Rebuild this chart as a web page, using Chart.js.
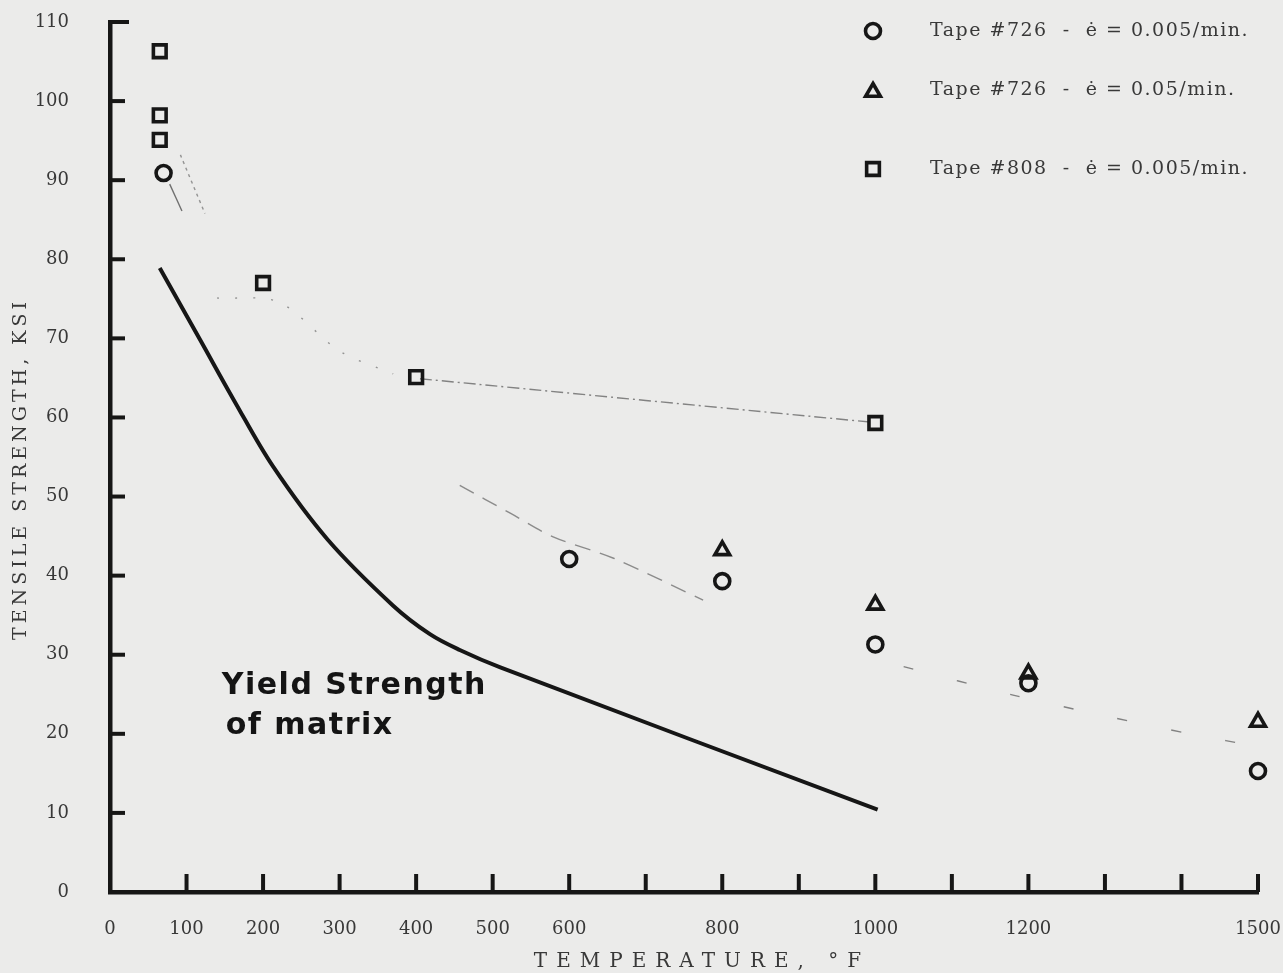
<!DOCTYPE html>
<html>
<head>
<meta charset="utf-8">
<script src="https://cdn.jsdelivr.net/npm/chart.js@4.4.1/dist/chart.umd.min.js"></script>
<style>
  html, body { margin: 0; padding: 0; background: #ebebea; overflow: hidden; }
  canvas { display: block; }
</style>
</head>
<body>
<canvas id="chart" width="1283" height="973"></canvas>
<script>
// ---------------- data ----------------
const xTickValues = [0,100,200,300,400,500,600,700,800,900,1000,1100,1200,1300,1400,1500];
const xLabelValues = [0,100,200,300,400,500,600,800,1000,1200,1500];
const yTickValues = [0,10,20,30,40,50,60,70,80,90,100,110];

// Tape #726, strain rate 0.005/min (circles)
const t726SlowTemp = [70, 600, 800, 1000, 1200, 1500];
const t726SlowKsi  = [90.9, 42.1, 39.3, 31.3, 26.4, 15.3];
// Tape #726, strain rate 0.05/min (triangles)
const t726FastTemp = [800, 1000, 1200, 1500];
const t726FastKsi  = [43.2, 36.3, 27.6, 21.5];
// Tape #808, strain rate 0.005/min (squares)
const t808SlowTemp = [65, 65, 65, 200, 400, 1000];
const t808SlowKsi  = [106.3, 98.2, 95.1, 77.0, 65.1, 59.3];

// Yield strength of matrix (heavy curve)
const yieldTemp = [65, 119, 163, 213, 284, 370, 418, 457, 510, 1003];
const yieldKsi  = [78.9, 69.6, 62.0, 53.8, 44.6, 36.2, 32.6, 30.6, 28.4, 10.4];

// faint hand-drawn fit lines
const fitSq808Temp = [405, 995];
const fitSq808Ksi  = [64.9, 59.4];
const fitSq200Temp = [140, 220, 300, 370];
const fitSq200Ksi  = [75.1, 74.6, 68.4, 65.5];
const fitMidTemp = [457, 523, 579, 658, 775];
const fitMidKsi  = [51.4, 47.9, 44.9, 42.2, 36.9];
const fitTopCTemp = [78, 94];
const fitTopCKsi  = [89.5, 86.1];
const fitTopSTemp = [92, 124];
const fitTopSKsi  = [93.2, 85.8];
const fitRightTemp = [1037, 1180, 1294, 1416, 1500];
const fitRightKsi  = [28.5, 24.9, 22.4, 19.9, 18.4];

const legendLabels = [
  'Tape #726  -  \u0117 = 0.005/min.',
  'Tape #726  -  \u0117 = 0.05/min.',
  'Tape #808  -  \u0117 = 0.005/min.'
];
const xTitle = 'TEMPERATURE, \u00B0F';
const yTitle = 'TENSILE STRENGTH, KSI';
const noteLines = ['Yield Strength', 'of matrix'];
const noteTemp = 146;
const noteKsi = [25.0, 20.0];

// ---------------- styling ----------------
const PAGE_BG = '#ebebea';
const INK = '#161616';
const TEXT = '#383838';
const SERIF = '"DejaVu Serif", "Liberation Serif", serif';

const pts = (xs, ys) => xs.map((x, i) => ({ x: x, y: ys[i] }));

function markerSet(label, xs, ys, style, r) {
  return {
    label: label, data: pts(xs, ys), showLine: false,
    pointStyle: style, pointRadius: r, pointHoverRadius: r,
    borderColor: INK, backgroundColor: 'rgba(0,0,0,0)',
    pointBorderWidth: 3.6, borderWidth: 3.6, clip: false, inLegend: true
  };
}
function fitSet(xs, ys, dash, alpha) {
  return {
    data: pts(xs, ys), showLine: true, pointRadius: 0,
    borderColor: 'rgba(60,60,60,' + alpha + ')', borderWidth: 1.4,
    borderDash: dash, tension: 0.3, clip: false
  };
}

const datasets = [
  markerSet(legendLabels[0], t726SlowTemp, t726SlowKsi, 'circle', 7.5),
  markerSet(legendLabels[1], t726FastTemp, t726FastKsi, 'triangle', 8.5),
  markerSet(legendLabels[2], t808SlowTemp, t808SlowKsi, 'rect', 9),
  {
    label: 'Yield Strength of matrix', data: pts(yieldTemp, yieldKsi),
    showLine: true, pointRadius: 0, borderColor: INK, borderWidth: 4,
    tension: 0.35, clip: false
  },
  fitSet(fitSq808Temp, fitSq808Ksi, [12, 4, 2, 4], 0.6),
  fitSet(fitSq200Temp, fitSq200Ksi, [2, 16], 0.5),
  fitSet(fitMidTemp, fitMidKsi, [16, 10], 0.55),
  fitSet(fitTopCTemp, fitTopCKsi, [], 0.7),
  fitSet(fitTopSTemp, fitTopSKsi, [3, 4], 0.5),
  fitSet(fitRightTemp, fitRightKsi, [10, 45], 0.6)
];

// ---------------- plugins ----------------
const background = {
  id: 'background',
  beforeDraw(chart) {
    const c = chart.ctx;
    c.save(); c.fillStyle = PAGE_BG; c.fillRect(0, 0, chart.width, chart.height); c.restore();
  }
};

const innerTicks = {
  id: 'innerTicks',
  beforeDatasetsDraw(chart) {
    const c = chart.ctx, a = chart.chartArea, xs = chart.scales.x, ys = chart.scales.y;
    c.save(); c.strokeStyle = INK; c.lineWidth = 4; c.lineCap = 'butt';
    xs.ticks.forEach(t => {
      if (t.value === xs.min) return;
      const px = xs.getPixelForValue(t.value);
      c.beginPath(); c.moveTo(px, a.bottom); c.lineTo(px, a.bottom - 18); c.stroke();
    });
    ys.ticks.forEach(t => {
      if (t.value === ys.min) return;
      const py = ys.getPixelForValue(t.value);
      const len = t.value === ys.max ? 19 : 15;
      c.beginPath(); c.moveTo(a.left, py); c.lineTo(a.left + len, py); c.stroke();
    });
    c.restore();
  }
};

function drawSymbol(c, style, x, y, r) {
  if (Chart.helpers && Chart.helpers.drawPoint) {
    Chart.helpers.drawPoint(c, { pointStyle: style, radius: r, borderWidth: 3.6, rotation: 0 }, x, y);
    return;
  }
  c.beginPath();
  if (style === 'circle') c.arc(x, y, r, 0, Math.PI * 2);
  else if (style === 'rect') { const s = r * Math.SQRT1_2; c.rect(x - s, y - s, 2 * s, 2 * s); }
  else { c.moveTo(x, y - r); c.lineTo(x + r * 0.866, y + r / 2); c.lineTo(x - r * 0.866, y + r / 2); c.closePath(); }
  c.stroke();
}

const sideLegend = {
  id: 'sideLegend',
  afterDraw(chart) {
    const c = chart.ctx;
    const rowY = [31, 90, 169];
    const symX = 873, textX = 930;
    c.save();
    let row = 0;
    chart.data.datasets.forEach(ds => {
      if (!ds.inLegend) return;
      const y = rowY[row++];
      c.strokeStyle = INK; c.fillStyle = 'rgba(0,0,0,0)'; c.lineWidth = 3.6;
      const yy = ds.pointStyle === 'triangle' ? y + 2 : y;
      drawSymbol(c, ds.pointStyle, symX, yy, ds.pointRadius);
      c.fillStyle = TEXT;
      c.font = '19px ' + SERIF;
      c.letterSpacing = '1.5px';
      c.textAlign = 'left'; c.textBaseline = 'middle';
      c.fillText(ds.label, textX, y);
    });
    c.restore();
  }
};

const axisTitles = {
  id: 'axisTitles',
  afterDraw(chart) {
    const c = chart.ctx, a = chart.chartArea;
    c.save();
    c.fillStyle = TEXT;
    c.font = '20px ' + SERIF;
    c.textAlign = 'center'; c.textBaseline = 'middle';
    c.letterSpacing = '9px';
    c.fillText(xTitle, (a.left + a.right) / 2 + 18, 962);
    c.font = '19px ' + SERIF;
    c.letterSpacing = '4px';
    c.translate(21, (a.top + a.bottom) / 2 + 12);
    c.rotate(-Math.PI / 2);
    c.fillText(yTitle, 0, 0);
    c.restore();
  }
};

const note = {
  id: 'note',
  afterDatasetsDraw(chart) {
    const c = chart.ctx, xs = chart.scales.x, ys = chart.scales.y;
    c.save();
    c.fillStyle = '#141414';
    c.font = 'bold 30px "DejaVu Sans", sans-serif';
    c.letterSpacing = '1.5px';
    c.textAlign = 'left'; c.textBaseline = 'alphabetic';
    noteLines.forEach((line, i) => {
      c.fillText(line, xs.getPixelForValue(noteTemp) + (i ? 4 : 0), ys.getPixelForValue(noteKsi[i]));
    });
    c.restore();
  }
};

const noScalePadding = s => { s.paddingTop = 0; s.paddingBottom = 0; s.paddingLeft = 0; s.paddingRight = 0; };

// ---------------- chart ----------------
new Chart(document.getElementById('chart'), {
  type: 'scatter',
  data: { datasets: datasets },
  options: {
    responsive: false,
    animation: false,
    events: [],
    layout: { padding: { left: 0, right: 25, top: 22, bottom: 0 } },
    plugins: { legend: { display: false }, tooltip: { enabled: false } },
    scales: {
      x: {
        type: 'linear', min: 0, max: 1500,
        afterBuildTicks: s => { s.ticks = xTickValues.map(v => ({ value: v })); },
        afterFit: s => { s.height = 81; noScalePadding(s); },
        grid: { display: false },
        border: { display: true, color: INK, width: 4.5 },
        ticks: {
          autoSkip: false, maxRotation: 0, padding: 19, color: TEXT,
          font: { family: SERIF, size: 18 },
          callback: v => xLabelValues.includes(v) ? String(v) : ''
        },
        title: { display: false }
      },
      y: {
        type: 'linear', min: 0, max: 110,
        afterBuildTicks: s => { s.ticks = yTickValues.map(v => ({ value: v })); },
        afterFit: s => { s.width = 110; noScalePadding(s); },
        grid: { display: false },
        border: { display: true, color: INK, width: 4.5 },
        ticks: {
          padding: 33, color: TEXT,
          font: { family: SERIF, size: 18 },
          callback: v => String(v)
        },
        title: { display: false }
      }
    }
  },
  plugins: [background, innerTicks, note, sideLegend, axisTitles]
});
</script>
</body>
</html>
